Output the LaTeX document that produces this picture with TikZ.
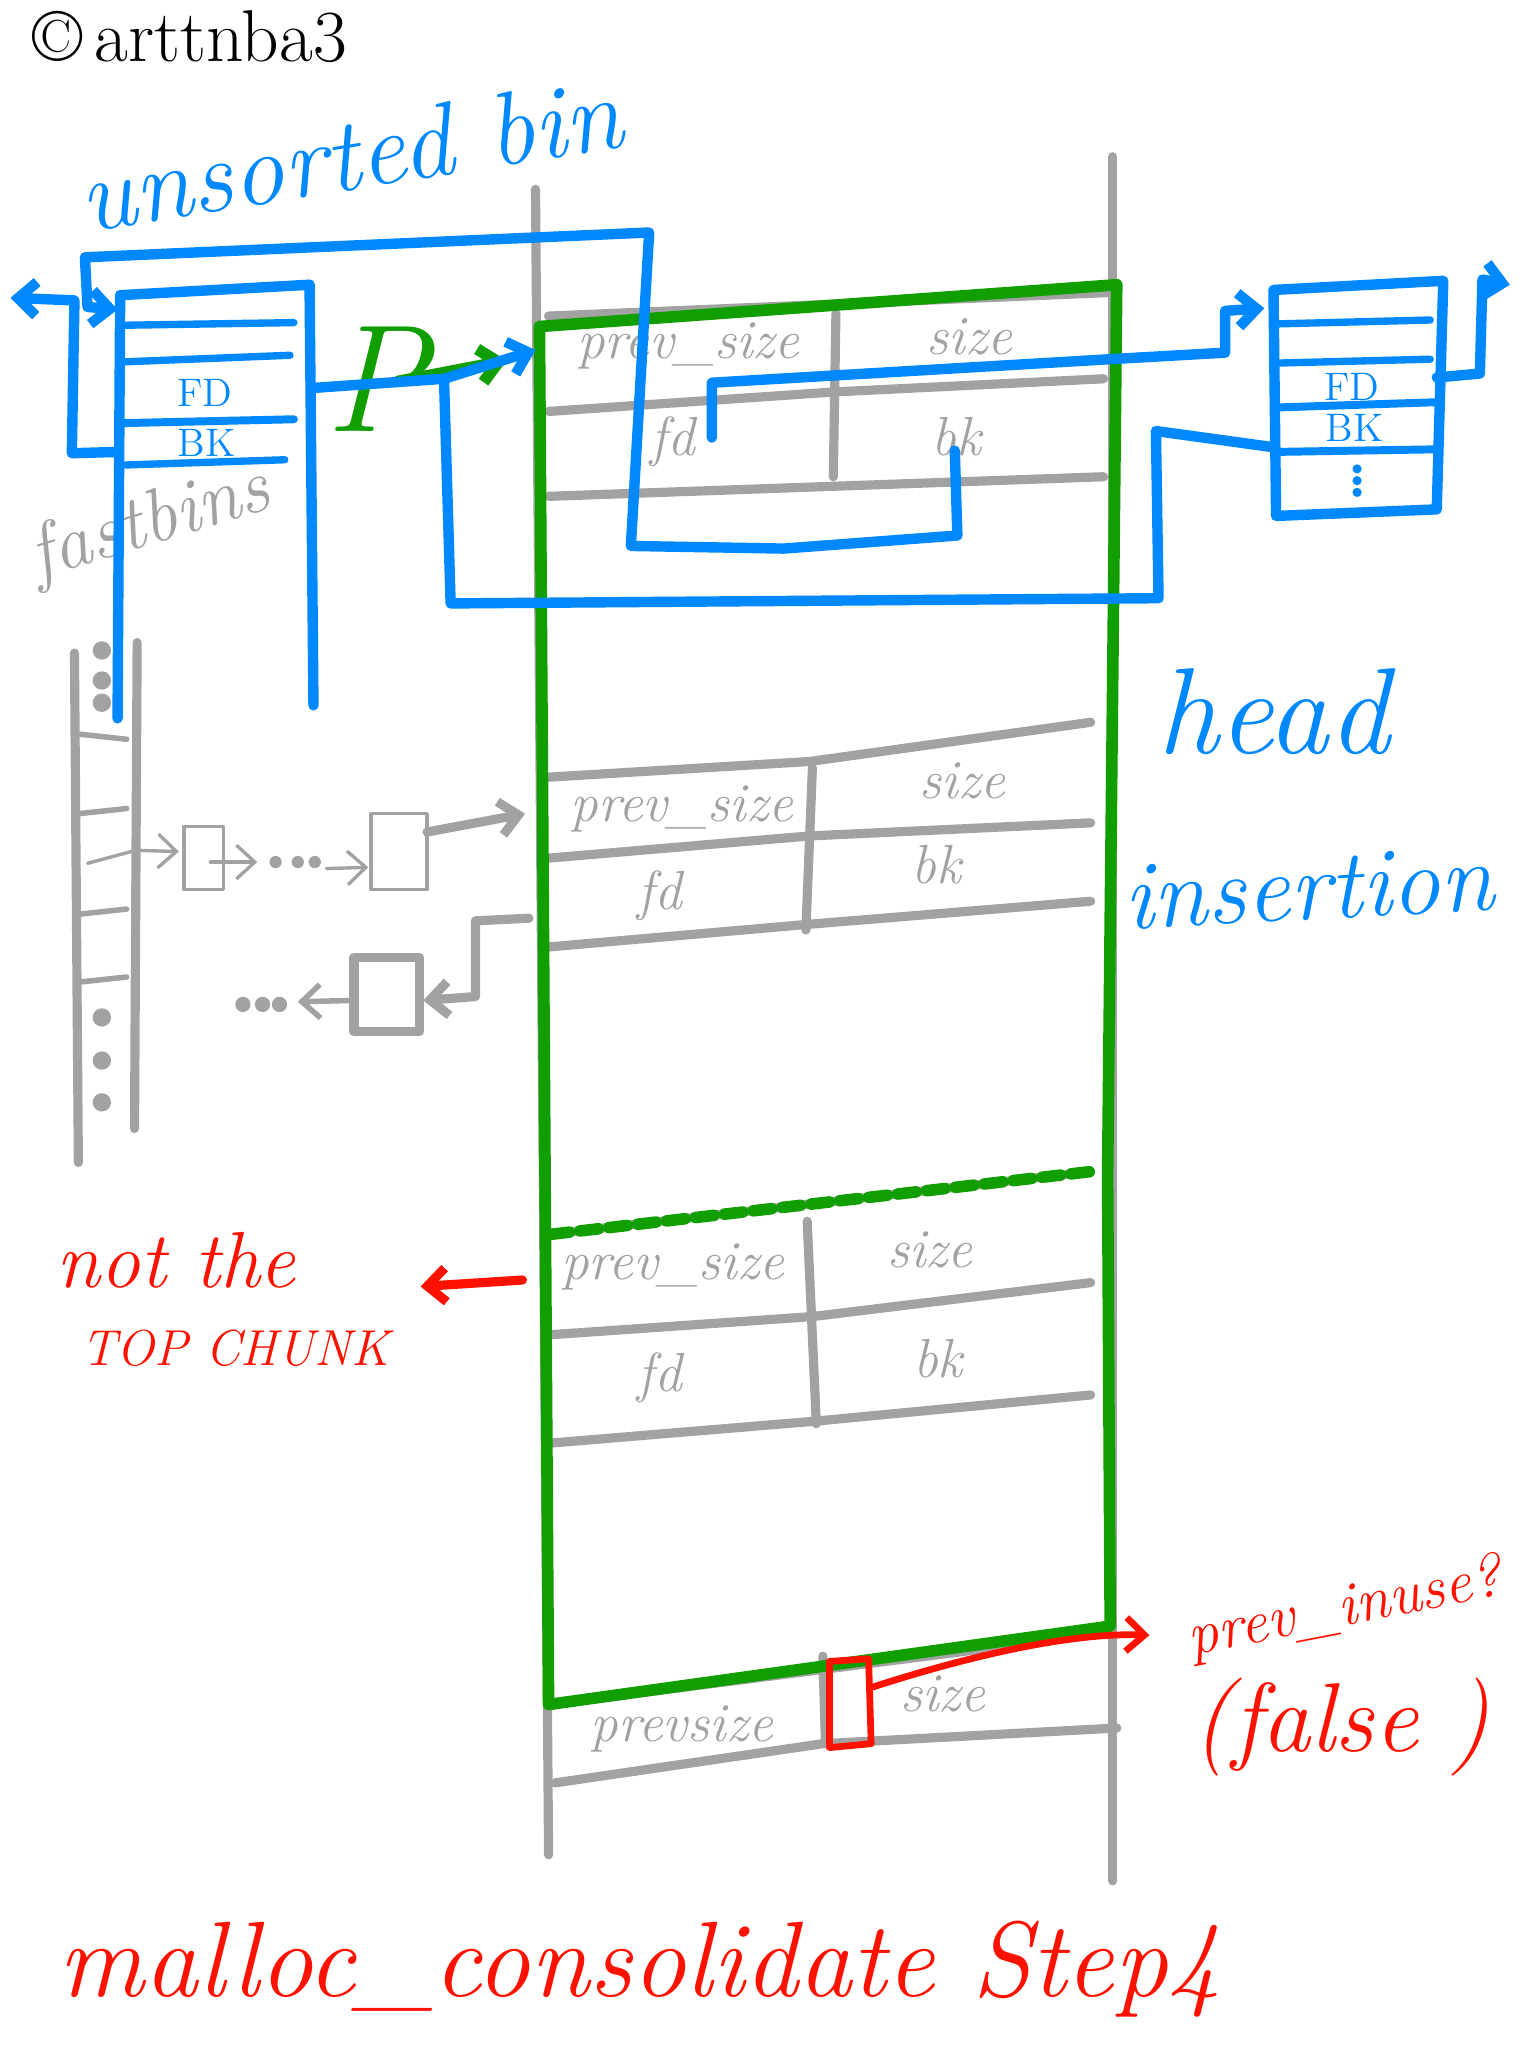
\documentclass[tikz,border=0pt]{standalone}
\usepackage{tikz}
\usetikzlibrary{arrows.meta}

\definecolor{binblue}{RGB}{0,136,255}
\definecolor{chunkgreen}{RGB}{17,158,0}
\definecolor{memgray}{RGB}{162,162,162}
\definecolor{notered}{RGB}{255,17,0}

\tikzset{
  memline/.style={memgray, line width=3pt, line cap=round, line join=round},
  thinmem/.style={memgray, line width=1.1pt, line cap=round, line join=round},
  binline/.style={binblue, line width=3.4pt, line cap=round, line join=round},
  chunkline/.style={chunkgreen, line width=3.8pt, line cap=round, line join=round},
  noteline/.style={notered, line width=2.2pt, line cap=round, line join=round},
  fieldtext/.style={memgray, inner sep=0pt, font=\fontsize{18}{18}\selectfont\itshape},
  bintext/.style={binblue, inner sep=0pt, font=\fontsize{13}{13}\selectfont},
  hand/.style={inner sep=0pt, font=\fontsize{#1}{#1}\selectfont\itshape},
  dot/.style={memgray, circle, fill, inner sep=0pt, minimum size=6pt}
}

\begin{document}
\begin{tikzpicture}[x=0.015cm, y=-0.015cm, >={Straight Barb[length=6pt,width=11pt]}]
  \useasboundingbox (0,0) rectangle (1176,1568);

  % titles
  \node[hand=24, font=\fontsize{24}{24}\selectfont] (credit) at (145,28) {©\,arttnba3};
  \node[hand=34, binblue, rotate=9] (ubin) at (268,118) {unsorted bin};
  \node[hand=25, memgray, rotate=17] (fastbins) at (115,402) {fastbins};

  % memory column
  \draw[memline] (410,145) -- (420,1420);
  \draw[memline] (852,120) -- (852,1440);

  % chunk 1
  \draw[memline] (420,242) -- (848,224);
  \draw[memline] (420,315) -- (640,300) -- (845,290);
  \draw[memline] (420,380) -- (845,365);
  \draw[memline] (640,240) -- (638,365);
  \node[fieldtext] (ps1) at (527,265) {prev\_size};
  \node[fieldtext] (sz1) at (742,258) {size};
  \node[fieldtext] (fd1) at (515,338) {fd};
  \node[fieldtext] (bk1) at (732,334) {bk};

  % chunk 2
  \draw[memline] (420,595) -- (620,583) -- (835,553);
  \draw[memline] (420,657) -- (620,640) -- (835,630);
  \draw[memline] (420,725) -- (615,708) -- (835,690);
  \draw[memline] (622,588) -- (617,712);
  \node[fieldtext] (ps2) at (522,619) {prev\_size};
  \node[fieldtext] (sz2) at (737,598) {size};
  \node[fieldtext] (fd2) at (505,686) {fd};
  \node[fieldtext] (bk2) at (717,662) {bk};

  % chunk 3
  \draw[memline] (420,945) -- (835,897);
  \draw[memline] (420,1022) -- (622,1008) -- (835,982);
  \draw[memline] (420,1105) -- (625,1088) -- (835,1068);
  \draw[memline] (618,935) -- (625,1090);
  \node[fieldtext] (ps3) at (515,970) {prev\_size};
  \node[fieldtext] (sz3) at (712,957) {size};
  \node[fieldtext] (fd3) at (505,1055) {fd};
  \node[fieldtext] (bk3) at (718,1040) {bk};

  % next chunk
  \draw[memline] (420,1305) -- (850,1250);
  \draw[memline] (425,1365) -- (630,1335) -- (855,1323);
  \draw[memline] (630,1268) -- (632,1335);
  \node[fieldtext] (ps4) at (522,1324) {prevsize};
  \node[fieldtext] (sz4) at (722,1297) {size};

  % merged chunk
  \draw[chunkline] (413,250) -- (855,218) -- (848,900) -- (850,1245)
    -- (420,1305) -- cycle;
  \draw[chunkline, dash pattern=on 6pt off 3.5pt] (422,945) -- (835,897);

  % fastbins
  \draw[memline] (57,500) -- (60,890);
  \draw[memline] (105,492) -- (103,864);
  \foreach \ya/\yb in {562/566, 623/619, 700/696, 752/748}
    \draw[memline, line width=1.8pt] (60,\ya) -- (97,\yb);
  \foreach \yy in {498,521,538,779,812,844}
    \node[dot] at (78,\yy) {};
  \draw[thinmem, ->] (67,661) -- (104,651) -- (137,652);
  \draw[thinmem] (141,633) rectangle (171,681);
  \draw[thinmem, ->] (161,660) -- (197,660);
  \foreach \xx in {211,228,241}
    \node[dot, minimum size=4pt] at (\xx,660) {};
  \draw[thinmem, ->] (250,665) -- (282,664);
  \draw[thinmem] (284,623) rectangle (327,681);
  \draw[memline, ->] (327,637) -- (402,623);
  \draw[memline, ->] (405,703) -- (364,705) -- (364,763) -- (324,766);
  \draw[memline] (271,733) rectangle (321,790);
  \draw[memline, line width=1.8pt, ->] (268,766) -- (228,767);
  \foreach \xx in {186,201,214}
    \node[dot, minimum size=5pt] at (\xx,769) {};

  % unsorted bin head
  \draw[binline] (92,226) -- (237,218);
  \draw[binline] (92,226) -- (90,550);
  \draw[binline] (237,218) -- (240,540);
  \draw[binline, line width=2.4pt] (96,249) -- (225,247);
  \draw[binline, line width=2.4pt] (96,277) -- (222,272);
  \draw[binline, line width=2.6pt] (92,324) -- (225,321);
  \draw[binline, line width=2.4pt] (96,356) -- (218,352);
  \node[bintext] (bfd) at (157,301) {FD};
  \node[bintext] (bbk) at (158,339) {BK};

  % free chunk in unsorted bin
  \draw[binline] (975,222) -- (1105,215) -- (1100,390) -- (977,395) -- cycle;
  \draw[binline, line width=2.4pt] (977,248) -- (1095,245);
  \draw[binline, line width=2.4pt] (977,278) -- (1095,275);
  \draw[binline, line width=2.6pt] (977,312) -- (1098,308);
  \draw[binline, line width=2.6pt] (977,346) -- (1100,344);
  \node[bintext] (rfd) at (1035,296) {FD};
  \node[bintext] (rbk) at (1037,328) {BK};
  \foreach \yy in {359,368,377}
    \node[dot, binblue, minimum size=3pt] at (1039,\yy) {};

  % list pointers
  \draw[binline, ->] (731,345) -- (733,410) -- (600,420) -- (483,418)
    -- (497,178) -- (65,197) -- (67,235) -- (90,237);
  \draw[binline, ->] (545,335) -- (545,293) -- (850,275) -- (938,270)
    -- (938,238) -- (968,236);
  \draw[binline] (972,342) -- (885,330) -- (887,458) -- (345,462) -- (340,292);
  \draw[binline, ->] (90,346) -- (55,347) -- (57,230) -- (8,228);
  \draw[binline, ->] (1100,289) -- (1133,286) -- (1135,214) -- (1156,218);

  % victim pointer
  \node[hand=50, chunkgreen] (pvar) at (288,290) {P};
  \draw[chunkline, ->] (305,292) -- (388,276);
  \draw[binline, ->] (240,297) -- (340,290) -- (410,268);

  % notes
  \node[hand=40, binblue] (headw) at (975,545) {head};
  \node[hand=32, binblue, rotate=3] (insw) at (1002,680) {insertion};
  \node[hand=26, notered] (notthe) at (135,965) {not the};
  \node[hand=16.5, notered] (topchunk) at (180,1032) {TOP CHUNK};
  \draw[noteline, line width=3pt, ->] (400,980) -- (322,985);
  \draw[noteline] (635,1272) -- (665,1270) -- (667,1335) -- (635,1338) -- cycle;
  \draw[noteline, ->] (667,1292) .. controls (760,1262) and (830,1250) .. (880,1252);
  \node[hand=20, notered, rotate=11] (inuse) at (1030,1232) {prev\_inuse?};
  \node[hand=32, notered] (falsew) at (1027,1322) {(false\,\,)};
  \node[hand=35, notered] (title) at (490,1508) {malloc\_consolidate Step4};
\end{tikzpicture}
\end{document}
